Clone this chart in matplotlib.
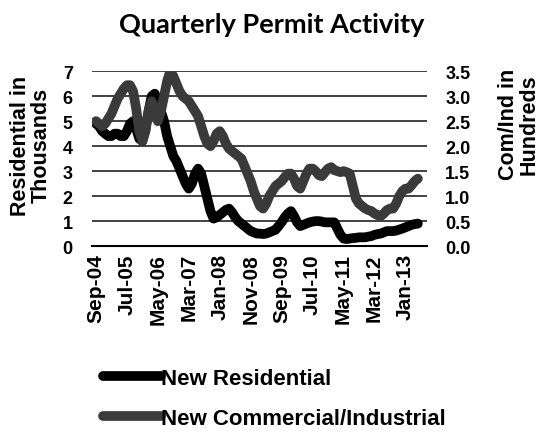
import numpy as np
import matplotlib
matplotlib.use("Agg")
import matplotlib.pyplot as plt

# monthly values, Sep-04 .. May-13
residential = [
    4.9, 4.8, 4.6, 4.5, 4.4, 4.4, 4.5, 4.5, 4.4, 4.4,
    4.6, 4.9, 5.0, 4.7, 4.3, 4.2, 4.7, 5.4, 6.0, 6.1,
    5.8, 5.4, 5.0, 4.4, 4.0, 3.6, 3.4, 3.1, 2.8, 2.5,
    2.3, 2.5, 2.9, 3.1, 2.9, 2.4, 1.9, 1.4, 1.1, 1.15,
    1.25, 1.35, 1.45, 1.5, 1.35, 1.15, 1.0, 0.9, 0.8, 0.7,
    0.6, 0.55, 0.5, 0.5, 0.48, 0.5, 0.55, 0.6, 0.65, 0.8,
    0.96, 1.15, 1.3, 1.4, 1.2, 0.95, 0.8, 0.85, 0.9, 0.95,
    0.98, 1.0, 1.0, 0.98, 0.95, 0.95, 0.95, 0.95, 0.7, 0.45,
    0.3, 0.28, 0.3, 0.32, 0.33, 0.35, 0.35, 0.35, 0.38, 0.4,
    0.45, 0.48, 0.5, 0.55, 0.6, 0.6, 0.6, 0.62, 0.66, 0.7,
    0.75, 0.8, 0.85, 0.88, 0.9,
]
commercial = [
    2.5, 2.45, 2.4, 2.45, 2.55, 2.65, 2.8, 2.95, 3.05, 3.15,
    3.22, 3.22, 3.1, 2.75, 2.3, 2.1, 2.3, 2.7, 2.9, 2.7,
    2.5, 2.7, 3.0, 3.3, 3.5, 3.4, 3.25, 3.1, 3.0, 2.95,
    2.9, 2.8, 2.7, 2.6, 2.4, 2.2, 2.05, 2.0, 2.1, 2.25,
    2.3, 2.2, 2.05, 1.95, 1.9, 1.85, 1.8, 1.75, 1.6, 1.45,
    1.3, 1.1, 0.95, 0.8, 0.75, 0.85, 1.0, 1.1, 1.2, 1.25,
    1.3, 1.38, 1.45, 1.45, 1.35, 1.2, 1.15, 1.3, 1.45, 1.55,
    1.55, 1.5, 1.42, 1.4, 1.48, 1.55, 1.58, 1.52, 1.5, 1.48,
    1.5, 1.48, 1.45, 1.2, 0.95, 0.85, 0.8, 0.75, 0.72, 0.7,
    0.65, 0.62, 0.6, 0.65, 0.72, 0.75, 0.75, 0.85, 1.0, 1.1,
    1.15, 1.15, 1.22, 1.3, 1.35,
]
tick_labels = ["Sep-04", "Jul-05", "May-06", "Mar-07", "Jan-08", "Nov-08",
               "Sep-09", "Jul-10", "May-11", "Mar-12", "Jan-13"]

plt.rcParams["font.family"] = "Liberation Sans"
plt.rcParams["font.weight"] = "bold"

fig = plt.figure(figsize=(5.49, 4.35), dpi=100)
ax = fig.add_axes([0.168, 0.432, 0.61, 0.402])
ax2 = ax.twinx()

x = np.arange(len(residential))
l1, = ax.plot(x, residential, color="black", lw=7, solid_capstyle="round",
              solid_joinstyle="round", label="New Residential")
l2, = ax2.plot(x, commercial, color="#3a3a3a", lw=7, solid_capstyle="round",
               solid_joinstyle="round", label="New Commercial/Industrial")

ax.set_xlim(-1.2, 107)
ax.set_ylim(0, 7)
ax2.set_ylim(0, 3.5)
ax.set_yticks(range(0, 8))
ax2.set_yticks(np.arange(0, 3.6, 0.5))
ax2.set_yticklabels([f"{v:.1f}" for v in np.arange(0, 3.6, 0.5)])
ax.set_xticks(np.arange(0, 101, 10))
ax.set_xticklabels(tick_labels, rotation=90, fontsize=15, fontweight="bold")
ax.tick_params(axis="both", length=0, labelsize=13)
ax.tick_params(axis="x", labelsize=15, pad=5)
ax2.tick_params(axis="both", length=0, labelsize=13, pad=13)
ax.tick_params(axis="y", pad=14)

ax.grid(axis="y", color="#222222", lw=1.2)
ax.set_axisbelow(True)
for a in (ax, ax2):
    for side in ("top", "left", "right"):
        a.spines[side].set_visible(False)
ax2.spines["bottom"].set_visible(False)
ax.spines["bottom"].set_linewidth(1.5)

ax.set_ylabel("Residential in\nThousands", fontsize=15.5, fontweight="bold",
              linespacing=1.0)
ax.yaxis.set_label_coords(-0.12, 0.58)
ax2.set_ylabel("Com/Ind in\nHundreds", fontsize=15.5, fontweight="bold",
               rotation=90, linespacing=1.0)
ax2.yaxis.set_label_coords(1.212, 0.70)

fig.text(0.494, 0.943, "Quarterly Permit Activity", ha="center", va="center",
         fontsize=19.5, fontweight="bold", family="Lato")

fig.legend(handles=[l1, l2], loc="upper left", bbox_to_anchor=(0.168, 0.178),
           frameon=False, fontsize=16, handlelength=2.6, handletextpad=0.0,
           labelspacing=0.85, borderpad=0)

plt.savefig("out.png", dpi=100)
